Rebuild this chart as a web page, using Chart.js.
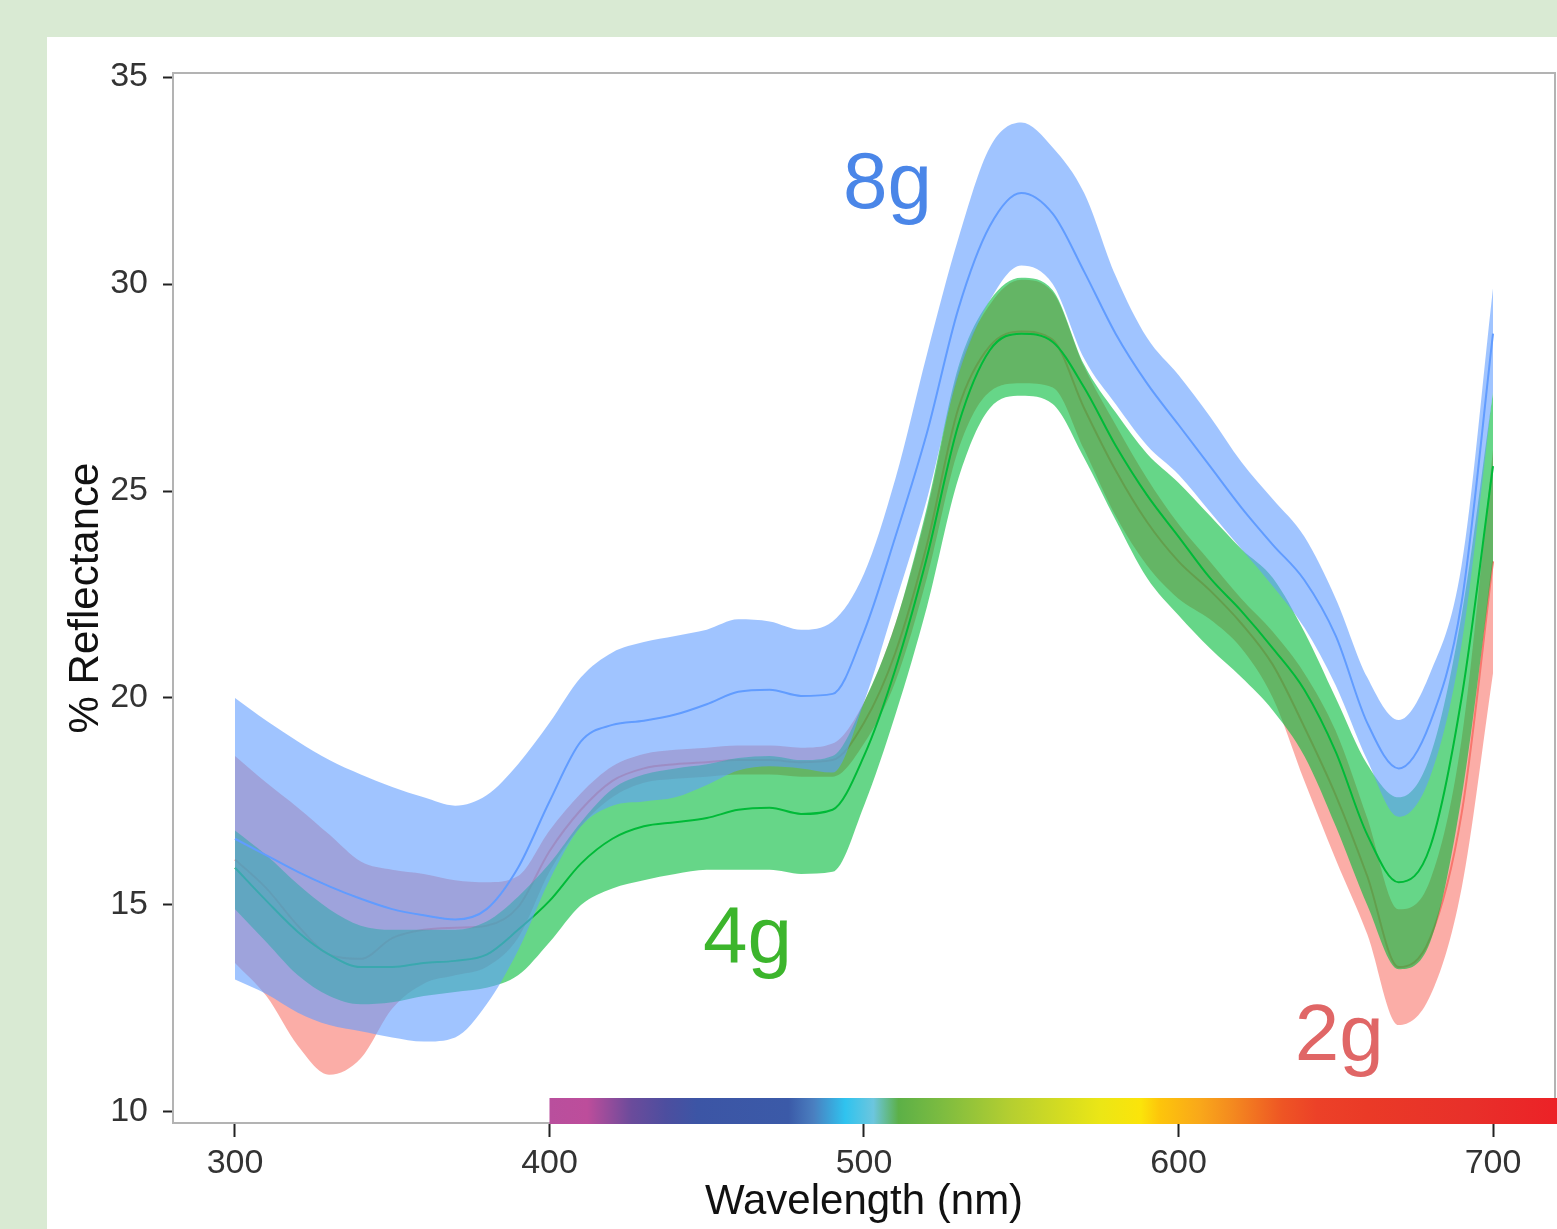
<!DOCTYPE html>
<html>
<head>
<meta charset="utf-8">
<title>Reflectance spectra</title>
<script src="https://cdn.jsdelivr.net/npm/chart.js@4.4.1/dist/chart.umd.min.js"></script>
<style>
  html, body { margin: 0; padding: 0; }
  body { width: 1557px; height: 1229px; background: #d9ead3; position: relative; overflow: hidden; }
  #panel { position: absolute; left: 47px; top: 37px; right: 0; bottom: 0; background: #fff; }
  #chart { position: absolute; left: 0; top: 0; }
</style>
</head>
<body>
<div id="panel"></div>
<canvas id="chart" width="1557" height="1229"></canvas>
<script>
// wavelength (nm), one point every 10 nm
const wavelengths = [300, 310, 320, 330, 340, 350, 360, 370, 380, 390,
                     400, 410, 420, 430, 440, 450, 460, 470, 480, 490,
                     500, 510, 520, 530, 540, 550, 560, 570, 580, 590,
                     600, 610, 620, 630, 640, 650, 660, 670, 680, 690, 700];

// 2g
const upper2g = [18.6, 17.95, 17.35, 16.7, 16.05, 15.85, 15.75, 15.6, 15.55, 15.7,
                 16.8, 17.7, 18.35, 18.65, 18.75, 18.8, 18.85, 18.85, 18.8, 18.9,
                 19.9, 21.8, 24.5, 27.9, 29.5, 30.1, 29.8, 28.0, 26.6, 25.3,
                 24.2, 23.3, 22.4, 21.6, 20.6, 19.2, 17.1, 14.9, 15.6, 19.0, 26.0];
const mean2g  = [16.1, 15.4, 14.5, 13.8, 13.7, 14.2, 14.4, 14.45, 14.5, 14.95,
                 16.3, 17.3, 18.0, 18.3, 18.4, 18.45, 18.5, 18.5, 18.45, 18.5,
                 19.4, 21.1, 23.7, 27.0, 28.5, 28.85, 28.65, 27.0, 25.5, 24.25,
                 23.3, 22.6, 21.8, 20.8, 19.3, 17.65, 15.7, 13.5, 14.2, 17.2, 23.3];
const lower2g = [13.6, 12.8, 11.6, 10.9, 11.3, 12.5, 13.1, 13.3, 13.5, 14.2,
                 15.8, 16.9, 17.6, 17.95, 18.05, 18.1, 18.15, 18.15, 18.1, 18.1,
                 18.9, 20.4, 22.9, 26.0, 27.4, 27.6, 27.5, 26.0, 24.4, 23.2,
                 22.4, 21.9, 21.2, 20.0, 18.0, 16.1, 14.3, 12.1, 12.8, 15.4, 20.6];

// 4g
const upper4g = [16.8, 16.2, 15.5, 14.9, 14.5, 14.4, 14.4, 14.4, 14.6, 15.2,
                 16.0, 17.0, 17.8, 18.15, 18.3, 18.4, 18.55, 18.6, 18.5, 18.6,
                 19.9, 21.8, 24.6, 28.0, 29.6, 30.15, 29.85, 28.05, 26.9, 25.9,
                 25.2, 24.4, 23.6, 22.9, 21.6, 20.0, 18.4, 17.6, 18.6, 22.0, 27.4];
const mean4g  = [15.9, 15.1, 14.35, 13.8, 13.5, 13.5, 13.6, 13.65, 13.8, 14.4,
                 15.1, 16.0, 16.6, 16.9, 17.0, 17.1, 17.3, 17.35, 17.2, 17.3,
                 18.6, 20.7, 23.4, 26.6, 28.4, 28.8, 28.6, 27.5, 26.1, 24.9,
                 23.9, 22.9, 22.1, 21.2, 20.2, 18.7, 16.7, 15.55, 16.4, 20.0, 25.6];
const lower4g = [14.9, 14.1, 13.3, 12.8, 12.6, 12.65, 12.8, 12.9, 13.0, 13.3,
                 14.1, 15.0, 15.4, 15.6, 15.75, 15.85, 15.85, 15.85, 15.75, 15.8,
                 17.4, 19.6, 22.2, 25.3, 27.0, 27.3, 27.1, 25.8, 24.3, 22.9,
                 22.0, 21.2, 20.5, 19.7, 18.6, 16.9, 15.0, 13.45, 14.1, 17.6, 23.3];

// 8g
const upper8g = [20.0, 19.45, 18.95, 18.5, 18.15, 17.85, 17.6, 17.4, 17.65, 18.4,
                 19.4, 20.5, 21.1, 21.35, 21.5, 21.65, 21.9, 21.85, 21.65, 21.85,
                 23.0, 25.3, 28.3, 31.1, 33.3, 33.9, 33.3, 32.2, 30.2, 28.7,
                 27.8, 26.8, 25.7, 24.8, 23.9, 22.4, 20.5, 19.47, 20.6, 23.2, 29.9];
const mean8g  = [16.6, 16.2, 15.8, 15.45, 15.15, 14.9, 14.75, 14.65, 14.9, 15.9,
                 17.5, 18.95, 19.35, 19.45, 19.6, 19.85, 20.15, 20.2, 20.05, 20.1,
                 21.6, 23.9, 26.4, 29.4, 31.4, 32.2, 31.7, 30.3, 28.8, 27.6,
                 26.6, 25.6, 24.6, 23.7, 22.85, 21.5, 19.4, 18.3, 19.4, 22.3, 28.8];
const lower8g = [13.2, 12.85, 12.4, 12.1, 11.95, 11.8, 11.7, 11.8, 12.6, 13.9,
                 15.6, 16.9, 17.4, 17.5, 17.6, 17.9, 18.25, 18.35, 18.3, 18.2,
                 19.9, 22.3, 24.8, 27.8, 29.6, 30.45, 30.0, 28.2, 27.1, 26.1,
                 25.4, 24.5, 23.6, 22.7, 21.7, 20.3, 18.5, 17.13, 18.1, 21.3, 27.4];

const xTicks = [300, 400, 500, 600, 700];
const yTicks = [10, 15, 20, 25, 30, 35];

// visible spectrum strip under the plot
const spectrumNm = [400, 412, 426, 437, 447, 476, 484, 494, 503, 511, 525, 547,
                    575, 588, 594, 607, 617, 633, 644, 660, 692, 720];
const spectrumColors = ['#b94f9d', '#bd4d9b', '#6b4b9b', '#4d4e9f', '#3c55a5', '#3b5aa8',
                        '#4a7fc0', '#2fc3ef', '#6cc6de', '#5cb047', '#7dbc40', '#b6cf30',
                        '#ebe616', '#fbe40a', '#fdc50b', '#f9a71a', '#f48a1f', '#ee5524',
                        '#ec4128', '#ea3a27', '#e8302a', '#ec2227'];

const FONT = "'Liberation Sans', Arial, Helvetica, sans-serif";

function points(values) {
    return wavelengths.map((w, i) => ({ x: w, y: values[i] }));
}

// ribbon = upper filled down to lower, then the mean line on top
function series(upper, mean, lower, line, fill, first, order) {
    const edge = {
        borderWidth: 0,
        borderColor: 'rgba(0,0,0,0)',
        pointRadius: 0,
        cubicInterpolationMode: 'monotone'
    };
    return [
        Object.assign({}, edge, { data: points(upper), backgroundColor: fill, fill: first + 1, order: order + 1 }),
        Object.assign({}, edge, { data: points(lower), backgroundColor: fill, fill: false, order: order + 1 }),
        {
            data: points(mean),
            borderColor: line,
            borderWidth: 2,
            pointRadius: 0,
            fill: false,
            cubicInterpolationMode: 'monotone',
            order: order
        }
    ];
}

const datasets = [].concat(
    series(upper2g, mean2g, lower2g, '#f8766d', 'rgba(248,118,109,0.6)', 0, 8),
    series(upper4g, mean4g, lower4g, '#00ba38', 'rgba(0,186,56,0.6)', 3, 5),
    series(upper8g, mean8g, lower8g, '#619cff', 'rgba(97,156,255,0.6)', 6, 2)
);

const groupLabels = [
    { text: '8g', x: 493.3, y: 31.84, color: '#4a86e8' },
    { text: '4g', x: 448.8, y: 13.62, color: '#3cb52c' },
    { text: '2g', x: 637.0, y: 11.26, color: '#e06666' }
];

const framePlugin = {
    id: 'frame',
    beforeDatasetsDraw(chart) {
        const a = chart.chartArea;
        const ctx = chart.ctx;
        ctx.save();
        ctx.strokeStyle = '#b3b3b3';
        ctx.lineWidth = 2;
        ctx.strokeRect(a.left, a.top, a.right - a.left, a.bottom - a.top);
        ctx.restore();
    }
};

const spectrumPlugin = {
    id: 'spectrum',
    afterDraw(chart) {
        const xs = chart.scales.x;
        const a = chart.chartArea;
        const ctx = chart.ctx;
        const x0 = xs.getPixelForValue(spectrumNm[0]);
        const x1 = xs.getPixelForValue(spectrumNm[spectrumNm.length - 1]);
        const grad = ctx.createLinearGradient(x0, 0, x1, 0);
        spectrumNm.forEach((nm, i) => {
            const p = (xs.getPixelForValue(nm) - x0) / (x1 - x0);
            grad.addColorStop(Math.min(1, Math.max(0, p)), spectrumColors[i]);
        });
        ctx.save();
        ctx.fillStyle = grad;
        ctx.fillRect(x0, a.bottom - 25, chart.width - x0, 26);
        ctx.restore();
    }
};

const labelPlugin = {
    id: 'groupLabels',
    afterDraw(chart) {
        const ctx = chart.ctx;
        ctx.save();
        ctx.font = '80px ' + FONT;
        ctx.textAlign = 'left';
        ctx.textBaseline = 'alphabetic';
        groupLabels.forEach(l => {
            ctx.fillStyle = l.color;
            ctx.fillText(l.text, chart.scales.x.getPixelForValue(l.x), chart.scales.y.getPixelForValue(l.y));
        });
        ctx.restore();
    }
};

new Chart(document.getElementById('chart'), {
    type: 'line',
    data: { datasets: datasets },
    options: {
        responsive: false,
        animation: false,
        devicePixelRatio: 1,
        events: [],
        layout: { padding: { top: 73, right: 2, bottom: 0, left: 0 } },
        plugins: {
            legend: { display: false },
            tooltip: { enabled: false },
            filler: { drawTime: 'beforeDatasetDraw' }
        },
        scales: {
            x: {
                type: 'linear',
                min: 280.29,
                max: 719.71,
                afterBuildTicks: axis => { axis.ticks = xTicks.map(v => ({ value: v })); },
                afterFit: axis => { axis.height = 106; },
                border: { display: false },
                grid: { drawOnChartArea: false, drawTicks: true, tickLength: 14, tickColor: '#222', tickWidth: 2 },
                ticks: { autoSkip: false, maxRotation: 0, padding: 6, color: '#333', font: { family: FONT, size: 34 } },
                title: { display: true, text: 'Wavelength (nm)', color: '#111', font: { family: FONT, size: 42 }, padding: { top: 0, bottom: 1 } }
            },
            y: {
                type: 'linear',
                min: 9.734,
                max: 35.097,
                afterBuildTicks: axis => { axis.ticks = yTicks.map(v => ({ value: v })); },
                afterFit: axis => { axis.width = 173; },
                border: { display: false },
                grid: { drawOnChartArea: false, drawTicks: true, tickLength: 10, tickColor: '#222', tickWidth: 2 },
                ticks: { autoSkip: false, padding: 15, color: '#333', font: { family: FONT, size: 34 } },
                title: { display: true, text: '% Reflectance', color: '#111', font: { family: FONT, size: 42 }, padding: { top: 61, bottom: 0 } }
            }
        }
    },
    plugins: [framePlugin, spectrumPlugin, labelPlugin]
});
</script>
</body>
</html>
